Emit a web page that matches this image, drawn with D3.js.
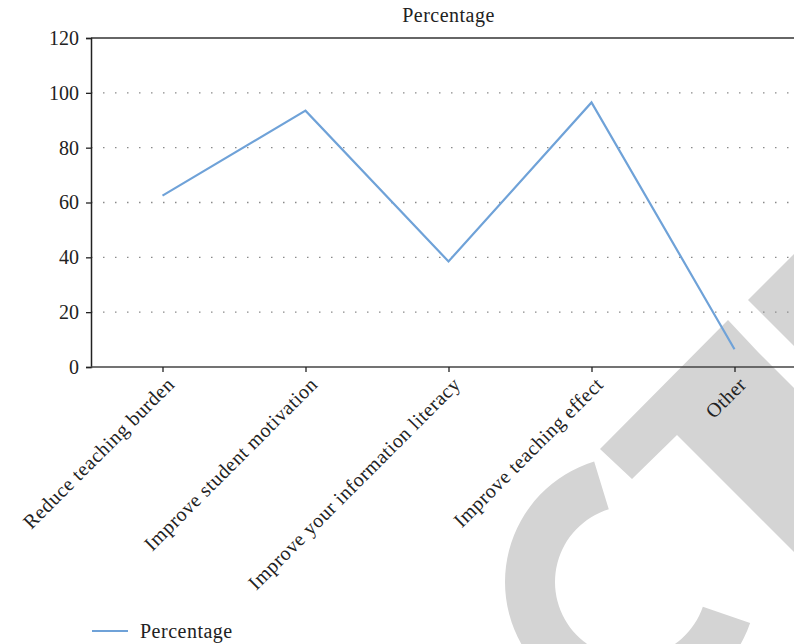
<!DOCTYPE html>
<html>
<head>
<meta charset="utf-8">
<script src="https://cdn.jsdelivr.net/npm/d3@7"></script>
<style>
  body { margin: 0; background: #fff; }
  svg { display: block; font-family: "Liberation Serif", "Times New Roman", serif; }
</style>
</head>
<body>
<script>
const categories = ["Reduce teaching burden", "Improve student motivation", "Improve your information literacy", "Improve teaching effect", "Other"];
const percentage = [62.5, 93.5, 38.5, 96.5, 6.5];
const yTicks = [0, 20, 40, 60, 80, 100, 120];
const seriesName = "Percentage";

const width = 794, height = 644;
const margin = {top: 38, left: 91, bottom: 277};
const plotRight = 806;

const svg = d3.select("body").append("svg")
    .attr("width", width)
    .attr("height", height);

// retraction watermark, behind the chart
const wm = svg.append("g").attr("fill", "#d4d4d4");
const arc = d3.arc()
    .innerRadius(76)
    .outerRadius(126)
    .startAngle(109 * Math.PI / 180)
    .endAngle(343 * Math.PI / 180);
wm.append("path")
    .attr("transform", "translate(631,582)")
    .attr("d", arc());
wm.append("polygon")
    .attr("points", "600,449 728,320 758,352 1058,652 977,735 677,435 632,479");
wm.append("polygon")
    .attr("points", "748,300 900,148 900,452");

const x = d3.scalePoint()
    .domain(categories)
    .range([margin.left, plotRight])
    .padding(0.5);

const y = d3.scaleLinear()
    .domain([0, 120])
    .range([height - margin.bottom, margin.top]);

// dotted grid
svg.append("g")
    .selectAll("line")
    .data(yTicks.filter(d => d > 0 && d < 120))
    .join("line")
    .attr("x1", margin.left)
    .attr("x2", width)
    .attr("y1", d => y(d))
    .attr("y2", d => y(d))
    .attr("stroke", "#8a8a8a")
    .attr("stroke-width", 1.3)
    .attr("stroke-dasharray", "1.5,10.5");

// top border
svg.append("line")
    .attr("x1", margin.left).attr("x2", width)
    .attr("y1", y(120)).attr("y2", y(120))
    .attr("stroke", "#333").attr("stroke-width", 1.5);

// y axis
const yAxis = svg.append("g")
    .attr("transform", `translate(${margin.left},0)`)
    .call(d3.axisLeft(y).tickValues(yTicks).tickSize(5).tickPadding(7));
yAxis.select(".domain").attr("stroke", "#222").attr("stroke-width", 1.5);
yAxis.selectAll(".tick line").attr("stroke", "#222").attr("stroke-width", 1.3);
yAxis.selectAll("text")
    .attr("font-size", 20)
    .attr("font-family", "Liberation Serif")
    .attr("fill", "#222");

// x axis
const xAxis = svg.append("g")
    .attr("transform", `translate(0,${y(0)})`)
    .call(d3.axisBottom(x).tickSize(5).tickSizeOuter(0));
xAxis.select(".domain").attr("stroke", "#444").attr("stroke-width", 1.5)
    .attr("d", `M${margin.left},0H${width}`);
xAxis.selectAll(".tick line").attr("stroke", "#222").attr("stroke-width", 1.3);
xAxis.selectAll("text")
    .attr("font-size", 20)
    .attr("font-family", "Liberation Serif")
    .attr("letter-spacing", 0.5)
    .attr("fill", "#222")
    .attr("text-anchor", "end")
    .attr("y", 0)
    .attr("dy", "0.75em")
    .attr("transform", "translate(2,8) rotate(-45)");

// series line
const line = d3.line()
    .x((d, i) => x(categories[i]))
    .y(d => y(d));
svg.append("path")
    .datum(percentage)
    .attr("fill", "none")
    .attr("stroke", "#6fa2d8")
    .attr("stroke-width", 2.2)
    .attr("d", line);

// title
svg.append("text")
    .attr("x", (margin.left + plotRight) / 2)
    .attr("y", 22)
    .attr("text-anchor", "middle")
    .attr("font-size", 20)
    .attr("letter-spacing", 0.5)
    .attr("fill", "#222")
    .text(seriesName);

// legend
const legend = svg.append("g").attr("transform", "translate(92,631)");
legend.append("line")
    .attr("x1", 0).attr("x2", 36)
    .attr("stroke", "#6fa2d8").attr("stroke-width", 2.2);
legend.append("text")
    .attr("x", 48).attr("y", 7)
    .attr("font-size", 20)
    .attr("letter-spacing", 0.5)
    .attr("fill", "#222")
    .text(seriesName);
</script>
</body>
</html>
